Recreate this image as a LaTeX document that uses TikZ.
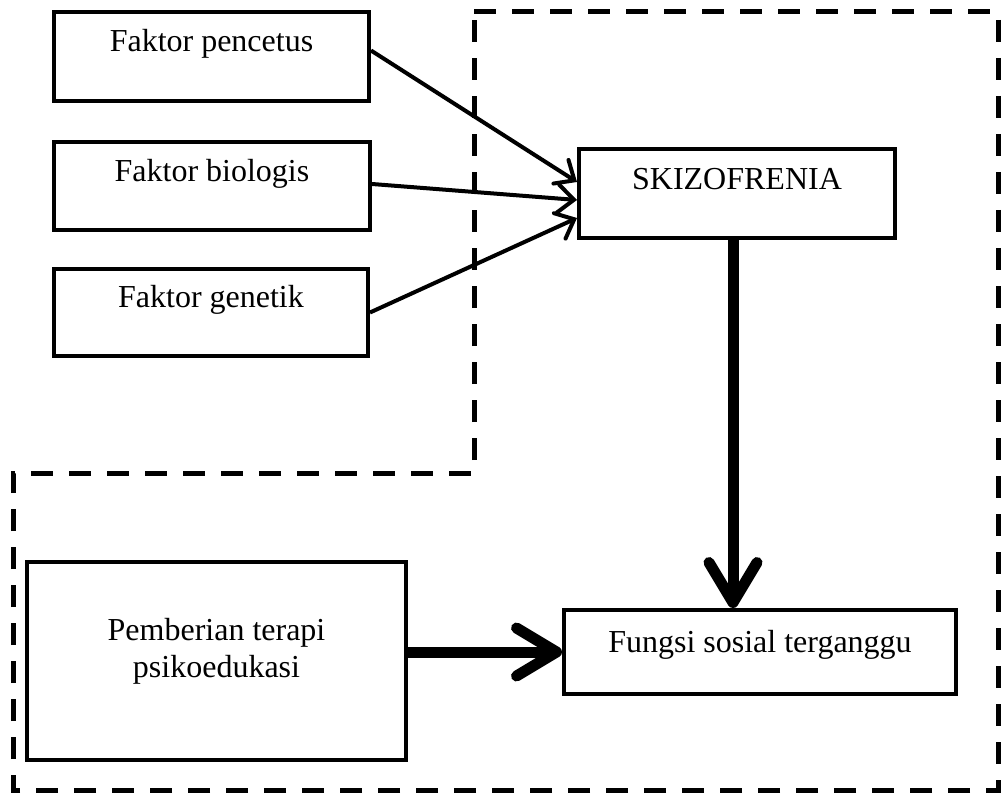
\documentclass[tikz,border=0pt]{standalone}
\usepackage{fontspec}
\setmainfont{Liberation Serif}
\usetikzlibrary{arrows.meta}
\begin{document}
\begin{tikzpicture}[x=0.5pt,y=-0.5pt,
  box/.style={draw=black,line width=2pt,inner sep=0pt,align=flush center,
    font=\fontsize{16}{18.5}\selectfont},
  thinarrow/.style={line width=2pt,-{Straight Barb[length=8pt,width=14pt,line cap=round]}},
  thickarrow/.style={line width=5.5pt,-{Straight Barb[length=20pt,width=24pt,line cap=round,line join=round]}},
  region/.style={line width=2.5pt,dash pattern=on 11pt off 8pt}]
\useasboundingbox (0,0) rectangle (1004,796);
\draw[region] (474,12) -- (998,12) -- (998,790) -- (13,790) -- (13,473) -- (474,473) -- cycle;
\node[box,text width=157.5pt,text height=20pt,text depth=24.5pt] (pen) at (211.5,56.5) {Faktor pencetus};
\node[box,text width=158pt,text height=20pt,text depth=24pt] (bio) at (212,186) {Faktor biologis};
\node[box,text width=157pt,text height=19pt,text depth=24.5pt] (gen) at (211,312.5) {Faktor genetik};
\node[box,text width=158pt,text height=20.5pt,text depth=24pt] (sk) at (737,193.5) {SKIZOFRENIA};
\node[box,text width=196pt,text height=21pt,text depth=21pt] (fs) at (760,652) {Fungsi sosial terganggu};
\node[box,text width=189.5pt,text height=39pt,text depth=60pt] (pt) at (216.5,661) {Pemberian terapi\\psikoedukasi};
\draw[thinarrow] ([yshift=3pt]pen.east) -- ([yshift=5.75pt]sk.west);
\draw[thinarrow] ([yshift=1pt]bio.east) -- ([yshift=-3.25pt]sk.west);
\draw[thinarrow] (gen.east) -- ([yshift=-12.25pt]sk.west);
\draw[thickarrow] ([xshift=-2pt]sk.south) -- ([xshift=-2pt]sk.south |- fs.north);
\draw[thickarrow] ([yshift=4.5pt]pt.east) -- (fs.west);
\end{tikzpicture}
\end{document}
